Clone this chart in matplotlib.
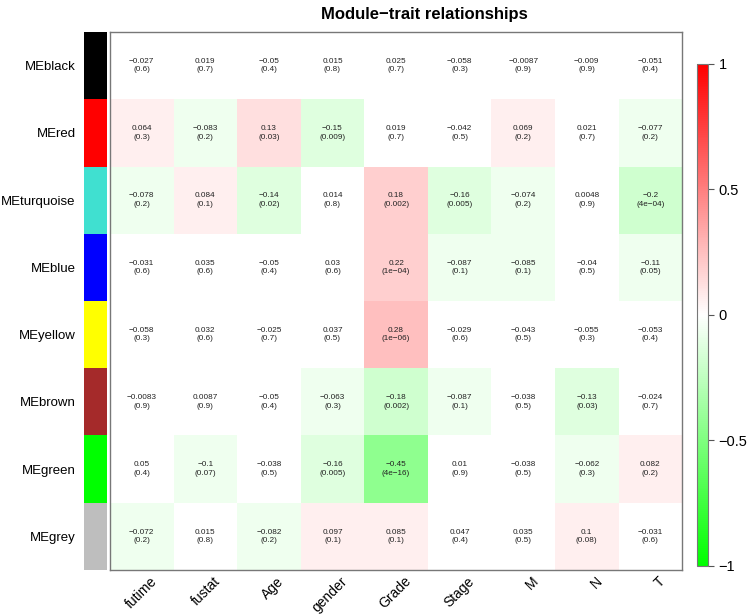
import numpy as np
import matplotlib
matplotlib.use("Agg")
from matplotlib import pyplot as plt
from matplotlib.colors import ListedColormap, BoundaryNorm, LinearSegmentedColormap, Normalize
from matplotlib.cm import ScalarMappable
from matplotlib.transforms import ScaledTranslation

plt.rcParams['font.family'] = ['Liberation Sans', 'DejaVu Sans']

modules = ["MEblack", "MEred", "MEturquoise", "MEblue", "MEyellow", "MEbrown", "MEgreen", "MEgrey"]
module_colors = ["black", "red", "turquoise", "blue", "yellow", "brown", "#00FF00", "#BEBEBE"]
traits = ["futime", "fustat", "Age", "gender", "Grade", "Stage", "M", "N", "T"]

cor = [
    [-0.027, 0.019, -0.05, 0.015, 0.025, -0.058, -0.0087, -0.009, -0.051],
    [0.064, -0.083, 0.13, -0.15, 0.019, -0.042, 0.069, 0.021, -0.077],
    [-0.078, 0.084, -0.14, 0.014, 0.18, -0.16, -0.074, 0.0048, -0.2],
    [-0.031, 0.035, -0.05, 0.03, 0.22, -0.087, -0.085, -0.04, -0.11],
    [-0.058, 0.032, -0.025, 0.037, 0.28, -0.029, -0.043, -0.055, -0.053],
    [-0.0083, 0.0087, -0.05, -0.063, -0.18, -0.087, -0.038, -0.13, -0.024],
    [0.05, -0.1, -0.038, -0.16, -0.45, 0.01, -0.038, -0.062, 0.082],
    [-0.072, 0.015, -0.082, 0.097, 0.085, 0.047, 0.035, 0.1, -0.031],
]
pval = [
    [0.6, 0.7, 0.4, 0.8, 0.7, 0.3, 0.9, 0.9, 0.4],
    [0.3, 0.2, 0.03, 0.009, 0.7, 0.5, 0.2, 0.7, 0.2],
    [0.2, 0.1, 0.02, 0.8, 0.002, 0.005, 0.2, 0.9, 4e-04],
    [0.6, 0.6, 0.4, 0.6, 1e-04, 0.1, 0.1, 0.5, 0.05],
    [0.3, 0.6, 0.7, 0.5, 1e-06, 0.6, 0.5, 0.3, 0.4],
    [0.9, 0.9, 0.4, 0.3, 0.002, 0.1, 0.5, 0.03, 0.7],
    [0.4, 0.07, 0.5, 0.005, 4e-16, 0.9, 0.5, 0.3, 0.2],
    [0.2, 0.8, 0.2, 0.1, 0.1, 0.4, 0.5, 0.08, 0.6],
]


def green_white_red(n):
    half = n // 2
    up = np.linspace(0, 1, half)
    down = np.linspace(1, 0, n - half)
    r = np.concatenate([up, np.ones(n - half)])
    g = np.concatenate([np.ones(half), down])
    b = np.concatenate([up, down])
    return np.column_stack([r, g, b])


def fmt_p(p):
    s = f"{p:.0e}" if p < 0.001 else f"{p:g}"
    return "(" + s.replace("-", "\u2212") + ")"


cor = np.array(cor)
nbins = 34
cell_cmap = ListedColormap(green_white_red(nbins))
cell_norm = BoundaryNorm(np.linspace(-1, 1, nbins + 1), nbins)

fig = plt.figure(figsize=(7.48, 6.16), dpi=100)

ax = fig.add_axes([0.147, 0.0747, 0.765, 0.8733])
ax.pcolormesh(cor, cmap=cell_cmap, norm=cell_norm)
ax.set_xlim(0, len(traits))
ax.set_ylim(len(modules), 0)
for i in range(len(modules)):
    for j in range(len(traits)):
        txt = f"{cor[i, j]:g}".replace("-", "\u2212") + "\n" + fmt_p(pval[i][j])
        ax.text(j + 0.5, i + 0.5, txt, ha="center", va="center", fontsize=5.9,
                linespacing=1.3, color="#222222")
ax.set_yticks([])
ax.set_xticks(np.arange(len(traits)) + 0.5)
ax.set_xticklabels(traits, rotation=45, ha="right", rotation_mode="anchor", fontsize=10)
ax.tick_params(axis="x", length=0, pad=3)
shift = ScaledTranslation(8 / 100, 0, fig.dpi_scale_trans)
for lab in ax.get_xticklabels():
    lab.set_transform(lab.get_transform() + shift)
for sp in ax.spines.values():
    sp.set_color("#777777")
    sp.set_linewidth(1.0)

# module colour strip
sax = fig.add_axes([0.1123, 0.0747, 0.031, 0.8733])
sax.pcolormesh(np.arange(len(modules))[:, None], cmap=ListedColormap(module_colors),
               vmin=-0.5, vmax=len(modules) - 0.5)
sax.set_ylim(len(modules), 0)
sax.set_xticks([])
sax.set_yticks(np.arange(len(modules)) + 0.5)
sax.set_yticklabels(modules, fontsize=9.5)
sax.tick_params(axis="y", length=0, pad=6)
for sp in sax.spines.values():
    sp.set_visible(False)

# colour bar
cax = fig.add_axes([0.932, 0.0812, 0.0145, 0.815])
smooth = LinearSegmentedColormap.from_list("gwr", ["#00FF00", "white", "#FF0000"])
cb = fig.colorbar(ScalarMappable(norm=Normalize(-1, 1), cmap=smooth), cax=cax)
cb.set_ticks([-1, -0.5, 0, 0.5, 1])
cb.set_ticklabels(["\u22121", "\u22120.5", "0", "0.5", "1"])
cb.ax.tick_params(labelsize=10.5, length=4, width=0.8, color="#555555")
cb.outline.set_edgecolor("#777777")
cb.outline.set_linewidth(0.8)

fig.text(0.567, 0.977, "Module\u2212trait relationships", ha="center", va="center",
         fontsize=12, fontweight="bold")

fig.savefig("out.png", dpi=100)
